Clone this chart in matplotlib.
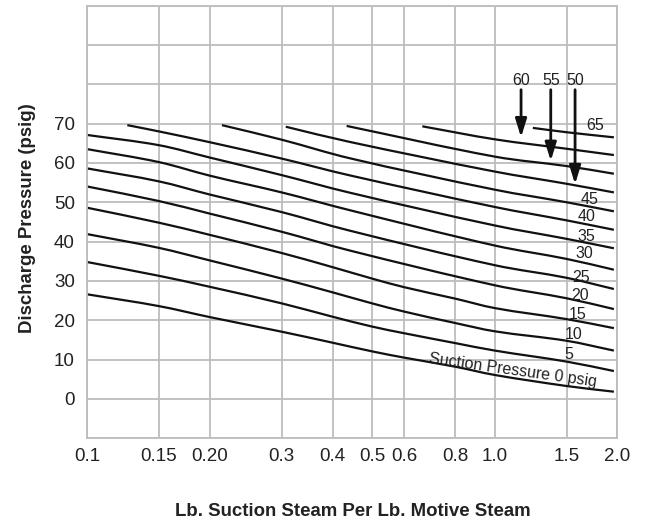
import matplotlib
matplotlib.use("Agg")
import numpy as np
import matplotlib.pyplot as plt
from matplotlib.path import Path
from matplotlib.patches import PathPatch
from matplotlib.ticker import FixedLocator, FixedFormatter, NullLocator

plt.rcParams['font.family'] = ['Liberation Sans', 'DejaVu Sans']

# ---- axis ticks ----
x_ticks = [0.1, 0.15, 0.2, 0.3, 0.4, 0.5, 0.6, 0.8, 1.0, 1.5, 2.0]
x_tick_labels = ["0.1", "0.15", "0.20", "0.3", "0.4", "0.5", "0.6", "0.8", "1.0", "1.5", "2.0"]
y_grid = [-10, 0, 10, 20, 30, 40, 50, 60, 70, 80, 90, 100]
y_tick_labels = ["", "0", "10", "20", "30", "40", "50", "60", "70", "", "", ""]

# ---- curves: discharge pressure (psig) vs lb suction / lb motive, per suction pressure ----
curve_00_x = [0.1, 0.15, 0.2, 0.3, 0.4, 0.5, 0.6, 0.8, 1.0, 1.5, 1.96]
curve_00_y = [26.6, 23.6, 20.8, 17.1, 14.3, 12.1, 10.5, 8.2, 6.1, 3.3, 1.85]
curve_05_x = [0.1, 0.15, 0.2, 0.3, 0.4, 0.5, 0.6, 0.8, 1.0, 1.5, 1.96]
curve_05_y = [34.8, 31.3, 28.5, 24.3, 20.9, 18.4, 16.7, 14.2, 12.3, 9.5, 7.1]
curve_10_x = [0.1, 0.15, 0.2, 0.3, 0.4, 0.5, 0.6, 0.8, 1.0, 1.5, 1.96]
curve_10_y = [41.9, 38.4, 35.2, 30.6, 27.1, 24.3, 22.2, 19.3, 17.2, 14.8, 12.3]
curve_15_x = [0.1, 0.15, 0.2, 0.3, 0.4, 0.5, 0.6, 0.8, 1.0, 1.5, 1.96]
curve_15_y = [48.6, 44.8, 41.7, 37.1, 33.5, 30.6, 28.4, 25.5, 23.1, 20.3, 18.0]
curve_20_x = [0.1, 0.15, 0.2, 0.3, 0.44, 1.0, 1.5, 1.96]
curve_20_y = [54.0, 50.3, 47.1, 42.5, 37.75, 28.9, 25.6, 22.85]
curve_25_x = [0.1, 0.15, 0.2, 0.3, 0.44, 1.0, 1.5, 1.96]
curve_25_y = [58.6, 55.3, 51.95, 47.5, 42.8, 34.0, 30.8, 27.95]
curve_30_x = [0.1, 0.15, 0.2, 0.3, 0.44, 1.0, 1.5, 1.96]
curve_30_y = [63.5, 60.2, 56.75, 52.5, 48.0, 39.0, 35.6, 32.85]
curve_35_x = [0.1, 0.15, 0.2, 0.3, 0.44, 1.0, 1.5, 1.96]
curve_35_y = [67.1, 64.5, 61.35, 56.9, 52.45, 44.1, 40.7, 38.3]
curve_40_x = [0.1254, 0.15, 0.2, 0.3, 0.44, 1.0, 1.5, 1.96]
curve_40_y = [69.6, 68.0, 65.25, 61.1, 56.85, 48.8, 45.4, 43.0]
curve_45_x = [0.214, 0.3, 0.44, 1.0, 1.5, 1.96]
curve_45_y = [69.6, 65.9, 61.2, 53.2, 50.0, 47.7]
curve_50_x = [0.307, 0.44, 1.0, 1.5, 1.96]
curve_50_y = [69.2, 65.35, 57.8, 54.7, 52.5]
curve_55_x = [0.433, 1.0, 1.5, 1.96]
curve_55_y = [69.4, 61.6, 59.2, 57.25]
curve_60_x = [0.664, 1.0, 1.5, 1.96]
curve_60_y = [69.3, 66.0, 63.6, 62.0]
curve_65_x = [1.24, 1.5, 1.96]
curve_65_y = [68.9, 67.8, 66.5]

# ---- curve labels ----
label_text = ["65", "45", "40", "35", "30", "25", "20", "15", "10", "5"]
label_x = [1.76, 1.71, 1.68, 1.68, 1.66, 1.63, 1.62, 1.60, 1.56, 1.52]
label_y = [69.4, 50.8, 46.3, 41.4, 36.9, 31.0, 26.3, 21.4, 16.3, 11.4]

suction_text = "Suction Pressure 0 psig"
suction_x = 1.11
suction_y = 7.4

# ---- arrows pointing to 60/55/50 curves ----
arrow_text = ["60", "55", "50"]
arrow_x = [1.16, 1.372, 1.574]
arrow_top = [78.6, 78.6, 78.6]
arrow_tip = [66.5, 60.5, 54.6]
arrow_label_y = 81.0

x_label = "Lb. Suction Steam Per Lb. Motive Steam"
y_label = "Discharge Pressure (psig)"

curves = [
    (curve_00_x, curve_00_y), (curve_05_x, curve_05_y), (curve_10_x, curve_10_y),
    (curve_15_x, curve_15_y), (curve_20_x, curve_20_y), (curve_25_x, curve_25_y),
    (curve_30_x, curve_30_y), (curve_35_x, curve_35_y), (curve_40_x, curve_40_y),
    (curve_45_x, curve_45_y), (curve_50_x, curve_50_y), (curve_55_x, curve_55_y),
    (curve_60_x, curve_60_y), (curve_65_x, curve_65_y),
]

grid_color = "#bdbdbd"


def smooth_path(xs, ys):
    """Cubic Bezier path through the read points (Catmull-Rom tangents in log-x space)."""
    u = np.log10(np.asarray(xs, dtype=float))
    v = np.asarray(ys, dtype=float)
    n = len(u)
    verts = [(u[0], v[0])]
    codes = [Path.MOVETO]
    for i in range(n - 1):
        i0 = max(i - 1, 0)
        i3 = min(i + 2, n - 1)
        h = u[i + 1] - u[i]
        m1 = (v[i + 1] - v[i0]) / (u[i + 1] - u[i0])
        m2 = (v[i3] - v[i]) / (u[i3] - u[i])
        verts += [(u[i] + h / 3, v[i] + m1 * h / 3),
                  (u[i + 1] - h / 3, v[i + 1] - m2 * h / 3),
                  (u[i + 1], v[i + 1])]
        codes += [Path.CURVE4] * 3
    verts = [(10 ** a, b) for a, b in verts]
    return Path(verts, codes)


fig = plt.figure(figsize=(6.45, 5.22), dpi=100)
ax = fig.add_axes([0.1353, 0.1603, 0.8220, 0.8291])
ax.set_xscale("log")
ax.set_xlim(0.1, 2.0)
ax.set_ylim(-10, 100)

ax.xaxis.set_major_locator(FixedLocator(x_ticks))
ax.xaxis.set_major_formatter(FixedFormatter(x_tick_labels))
ax.xaxis.set_minor_locator(NullLocator())
ax.yaxis.set_major_locator(FixedLocator(y_grid))
ax.yaxis.set_major_formatter(FixedFormatter(y_tick_labels))
ax.yaxis.set_minor_locator(NullLocator())
ax.tick_params(axis="both", length=0, labelsize=13.5, colors="#222222")
ax.tick_params(axis="x", pad=7)
ax.tick_params(axis="y", pad=9)

ax.grid(True, color=grid_color, linewidth=1.3)
ax.set_axisbelow(True)
for s in ax.spines.values():
    s.set_color(grid_color)
    s.set_linewidth(1.3)

for cx, cy in curves:
    ax.add_patch(PathPatch(smooth_path(cx, cy), fill=False, edgecolor="#111111",
                           linewidth=1.6, capstyle="butt"))

for t, lx, ly in zip(label_text, label_x, label_y):
    ax.text(lx, ly, t, fontsize=11.5, ha="center", va="center", color="#222222")

ax.text(suction_x, suction_y, suction_text, fontsize=11.5, ha="center", va="center",
        rotation=-8, rotation_mode="anchor", color="#222222")

for t, axx, top, tip in zip(arrow_text, arrow_x, arrow_top, arrow_tip):
    ax.annotate("", xy=(axx, tip), xytext=(axx, top),
                arrowprops=dict(arrowstyle="-|>,head_length=0.55,head_width=0.17",
                                lw=2.0, color="#111111", shrinkA=0, shrinkB=0,
                                mutation_scale=20))
    ax.text(axx, arrow_label_y, t, fontsize=11.5, ha="center", va="center", color="#222222")

fig.text(0.547, 0.0197, x_label, fontsize=13.4, fontweight="bold", ha="center", va="center",
         color="#222222")
fig.text(0.042, 0.583, y_label, fontsize=13.4, fontweight="bold", ha="center", va="center",
         rotation=90, color="#222222")

fig.savefig("out.png", dpi=100)
